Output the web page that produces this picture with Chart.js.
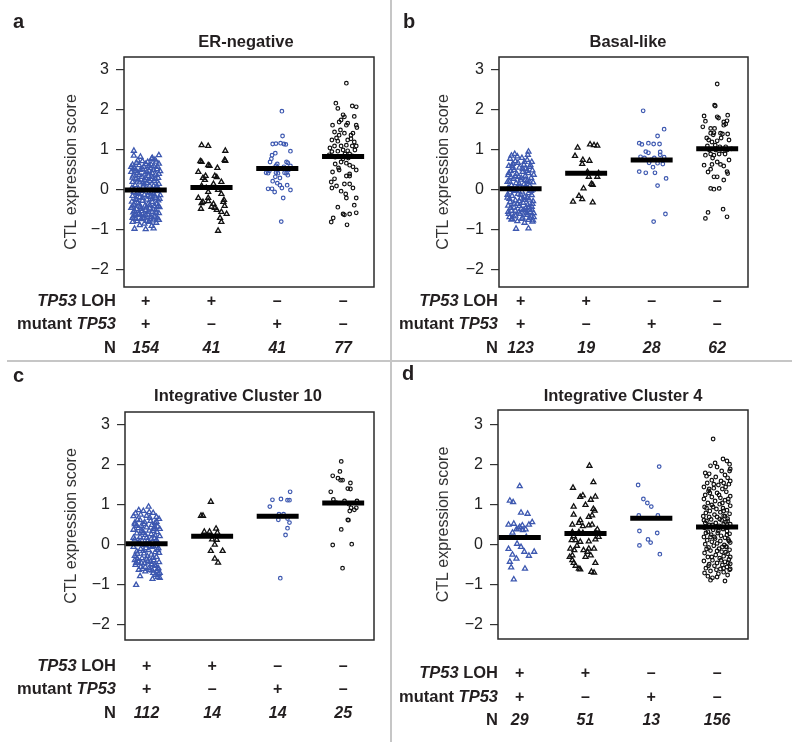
<!DOCTYPE html>
<html>
<head>
<meta charset="utf-8">
<script src="https://cdn.jsdelivr.net/npm/chart.js@4.4.0/dist/chart.umd.min.js"></script>
<style>
  body { margin: 0; background: #fff; }
  #wrap { position: relative; width: 800px; height: 742px; overflow: hidden; }
  #wrap canvas { position: absolute; }
  .sep { position: absolute; background: #c6c6c6; }
</style>
</head>
<body>
<div id="wrap">
  <div class="sep" style="left:390px;top:0;width:1.5px;height:742px"></div>
  <div class="sep" style="left:7px;top:360px;width:785px;height:1.5px"></div>
  <canvas id="pa" width="390" height="360" style="left:0;top:0"></canvas>
  <canvas id="pb" width="408" height="360" style="left:392px;top:0"></canvas>
  <canvas id="pc" width="390" height="380" style="left:0;top:362px"></canvas>
  <canvas id="pd" width="408" height="380" style="left:392px;top:362px"></canvas>
</div>
<script>
// groups: TP53 LOH+/mut+, LOH+/mut-, LOH-/mut+, LOH-/mut-
const categories = [1, 2, 3, 4];
const lohSigns = ["+", "+", "\u2013", "\u2013"];
const mutSigns = ["+", "\u2013", "+", "\u2013"];
const yTicks = [-2, -1, 0, 1, 2, 3];

const countsErNeg = [154, 41, 41, 77];
const countsBasal = [123, 19, 28, 62];
const countsIc10 = [112, 14, 14, 25];
const countsIc4 = [29, 51, 13, 156];

const mediansErNeg = [0.0, 0.06, 0.54, 0.84];
const mediansBasal = [0.03, 0.42, 0.75, 1.03];
const mediansIc10 = [0.03, 0.22, 0.72, 1.05];
const mediansIc4 = [0.19, 0.29, 0.67, 0.45];

// points as [offset from category, score]
const erNeg1 = [
  [-.18,.98],[.2,.87],[-.18,.86],[.09,.78],[.14,.76],[-.05,.72],[.03,.7],[-.14,.68],[.2,.66],[-.2,.63],
  [-.1,.62],[.0,.65],[.12,.6],[-.03,.58],[.07,.55],[-.17,.55],[.17,.52],[-.08,.5],[.05,.48],[.22,.47],
  [-.22,.45],[-.13,.43],[.1,.42],[-.01,.41],[.15,.38],[-.19,.36],[.04,.35],[-.06,.33],[.19,.3],[-.15,.28],
  [.08,.27],[-.02,.25],[.13,.22],[-.2,.2],[-.09,.19],[.02,.17],[.2,.15],[-.16,.12],[.06,.11],[-.04,.08],
  [.16,.06],[-.21,.05],[-.11,.03],[.1,.02],[.0,.0],[-.07,-.02],[.18,-.03],[-.18,-.05],[.05,-.06],[-.13,-.08],
  [.12,-.1],[-.02,-.12],[.22,-.13],[-.2,-.15],[.07,-.17],[-.09,-.18],[.15,-.2],[-.15,-.22],[.02,-.24],[.19,-.26],
  [-.05,-.27],[-.21,-.29],[.1,-.3],[-.12,-.32],[.04,-.34],[.17,-.35],[-.18,-.37],[-.01,-.39],[.13,-.4],[-.08,-.42],
  [.21,-.43],[-.22,-.45],[.06,-.46],[-.14,-.48],[.0,-.5],[.15,-.51],[-.06,-.53],[.1,-.55],[-.19,-.56],[.2,-.58],
  [-.1,-.59],[.03,-.61],[-.16,-.63],[.13,-.64],[-.03,-.66],[.08,-.68],[-.2,-.7],[.18,-.71],[-.07,-.73],[.11,-.76],
  [-.13,-.78],[.05,-.8],[.16,-.82],[-.02,-.84],[-.17,-.97],[.0,-.98],[.12,-.96],[-.09,-.88],[.09,-.9],[-.2,-.8],
  [.1,.8],[-.08,.83],[.16,.71],[-.12,.74],[.05,.6],[-.22,.58],[.18,.58],[-.05,.53],[.12,.5],[-.15,.48],
  [.02,.45],[.2,.4],[-.1,.38],[.09,.33],[-.2,.31],[.0,.3],[.15,.27],[-.12,.24],[.06,.22],[-.04,.2],
  [.17,.1],[-.17,.0],[.08,-.07],[-.1,-.1],[.03,-.14],[.14,-.16],[-.05,-.2],[.21,-.22],[-.14,-.25],[.1,-.23],
  [-.1,-.36],[.06,-.38],[.19,-.4],[-.2,-.41],[.01,-.44],[-.07,-.47],[.11,-.48],[-.17,-.52],[.04,-.55],[.16,-.57],
  [-.11,-.6],[.0,-.63],[.14,-.67],[-.19,-.66],[.07,-.72],[-.04,-.7],[.2,-.75],[-.15,-.72],[.02,-.77],[-.08,-.62],
  [.12,.1],[-.03,.14],[-.19,.52],[.08,.64]
];
const erNeg2 = [
  [-.15,1.12],[-.05,1.1],[.21,.98],[-.17,.72],[-.15,.7],[-.05,.62],[-.03,.6],[.09,.55],[.2,.75],[.21,.73],
  [-.13,.3],[-.09,.35],[-.1,.25],[.05,.35],[.08,.32],[.15,.2],[.03,.15],[-.15,.1],[-.08,.05],[.1,.0],
  [-.05,-.05],[.15,-.1],[-.2,-.2],[-.13,-.3],[-.05,-.28],[.18,-.3],[.2,-.4],[.05,-.45],[.0,-.42],[-.16,-.47],
  [.08,-.5],[.15,-.55],[.23,-.6],[.13,-.7],[.15,-.8],[.1,-1.02],[-.05,-.2],[.03,-.35],[-.15,-.33],[.19,-.25],
  [-.2,.45]
];
const erNeg3 = [
  [.07,1.97],[.08,1.35],[-.07,1.15],[-.02,1.16],[.05,1.17],[.1,1.15],[.13,1.14],[.2,.97],[-.03,.92],[-.08,.87],
  [-.09,.78],[-.11,.7],[.14,.7],[.16,.68],[.2,.6],[-.02,.61],[-.17,.43],[-.14,.42],[-.02,.43],[.01,.42],
  [.11,.43],[.14,.42],[.16,.37],[.04,.3],[-.03,.33],[.0,.17],[.04,.12],[.15,.12],[-.14,.03],[-.08,.03],
  [-.04,-.05],[.07,.05],[.2,.0],[.09,-.2],[.06,-.79],[-.05,.55],[.1,.58],[-.12,.48],[.17,.5],[.0,.65],
  [-.07,.22]
];
const erNeg4 = [
  [.05,2.67],[-.11,2.17],[.14,2.1],[.2,2.08],[-.08,2.04],[.0,1.88],[.02,1.83],[-.03,1.75],[-.06,1.7],[.17,1.84],
  [-.16,1.62],[.05,1.62],[.07,1.67],[.2,1.62],[.21,1.56],[-.13,1.45],[-.06,1.37],[.02,1.42],[.15,1.42],[.12,1.37],
  [-.17,1.25],[-.08,1.22],[.07,1.25],[.17,1.2],[.2,1.1],[-.13,1.1],[-.03,1.1],[.05,1.12],[.14,1.1],[.0,1.0],
  [.07,.98],[-.08,.97],[-.17,.96],[.03,.9],[.1,.9],[-.21,.88],[-.03,.7],[.05,.67],[.1,.62],[.15,.58],
  [-.12,.65],[-.16,.45],[-.06,.5],[.2,.5],[.05,.35],[.1,.35],[-.13,.28],[.02,.15],[.1,.15],[.15,.05],
  [-.17,.05],[-.1,.1],[-.03,-.03],[.05,-.2],[.2,-.2],[-.08,-.43],[.0,-.6],[.02,-.62],[.1,-.6],[.2,-.57],
  [-.15,-.7],[-.18,-.8],[.06,-.87],[.17,-.38],[-.1,1.3],[.12,1.28],[-.04,1.5],[.18,1.0],[-.2,1.05],[.08,.8],
  [-.12,.82],[.0,.78],[.14,.85],[-.07,.55],[.1,.4],[-.18,.2],[.04,-.1]
];

const basal1 = [
  [.12,.96],[-.14,.86],[-.05,.84],[.02,.8],[-.16,.78],[.1,.75],[-.08,.72],[.17,.7],[-.12,.65],[.05,.63],
  [-.18,.6],[.14,.58],[-.02,.56],[.08,.53],[-.1,.5],[.18,.49],[-.15,.47],[.03,.45],[.12,.42],[-.06,.4],
  [-.19,.37],[.07,.35],[-.03,.33],[.16,.3],[-.11,.28],[.0,.26],[.1,.23],[-.17,.21],[.19,.19],[-.07,.17],
  [.05,.14],[-.14,.12],[.14,.1],[-.01,.08],[-.19,.05],[.09,.04],[.18,.01],[-.09,-.02],[.02,-.04],[-.16,-.06],
  [.12,-.08],[-.04,-.1],[.17,-.13],[-.13,-.15],[.06,-.17],[-.2,-.19],[.0,-.21],[.13,-.24],[-.08,-.26],[.19,-.28],
  [-.16,-.3],[.04,-.32],[-.05,-.35],[.11,-.37],[-.19,-.39],[.17,-.42],[-.1,-.44],[.01,-.47],[.14,-.49],[-.14,-.52],
  [.07,-.54],[-.03,-.56],[.2,-.58],[-.18,-.6],[.1,-.62],[-.08,-.64],[.16,-.66],[.03,-.69],[-.13,-.72],[.12,-.75],
  [-.05,-.78],[.18,-.79],[-.14,-.74],[.06,-.82],[-.07,-.97],[.12,-.96],[.2,-.68],[.15,-.55],[-.01,-.6],[.08,-.45],
  [-.12,.55],[.15,.62],[-.04,.68],[.06,.7],[-.18,.42],[.1,.48],[-.08,.35],[.2,.38],[.01,.3],[-.15,.32],
  [.14,.2],[-.02,.15],[-.2,.2],[.08,.1],[-.11,.0],[.16,-.02],[-.06,.05],[.0,-.12],[.1,-.2],[-.17,-.22],
  [.05,-.25],[-.1,-.35],[.18,-.35],[-.02,-.4],[.12,-.43],[-.15,-.45],[.04,-.5],[-.08,-.52],[.17,-.5],[-.19,-.55],
  [.09,-.58],[-.11,-.66],[.02,-.72],[.14,-.7],[-.17,-.68],[.19,-.76],[-.02,-.28],[.07,.25],[-.13,.6],[.11,.88],
  [-.09,.9],[.03,.52],[-.2,-.12]
];
const basal2 = [
  [-.13,1.06],[.06,1.14],[.12,1.12],[.17,1.11],[-.17,.85],[-.05,.75],[.05,.73],[-.06,.65],[.04,.33],[.17,.33],
  [.08,.15],[.1,.13],[-.04,.04],[-.11,-.15],[-.06,-.23],[-.2,-.29],[.1,-.31],[.02,.45],[.19,.42]
];
const basal3 = [
  [-.13,1.98],[.19,1.52],[.09,1.35],[-.19,1.17],[-.15,1.14],[-.05,1.17],[.03,1.15],[.12,1.15],[-.09,.96],[-.05,.93],
  [.13,.95],[.13,.88],[-.17,.83],[-.11,.8],[.04,.8],[.19,.82],[-.04,.68],[.09,.67],[.17,.65],[.02,.57],
  [-.19,.46],[-.09,.43],[.05,.43],[.22,.29],[.09,.11],[.21,-.6],[.03,-.79],[-.01,.75]
];
const basal4 = [
  [.0,2.65],[-.04,2.12],[-.03,2.1],[-.2,1.85],[.16,1.87],[.0,1.83],[.02,1.8],[-.18,1.72],[.1,1.7],[.15,1.73],
  [-.22,1.58],[-.1,1.54],[-.04,1.54],[.1,1.62],[.13,1.65],[-.1,1.42],[-.05,1.43],[.05,1.42],[.08,1.4],[-.13,1.25],
  [-.08,1.2],[.0,1.23],[.18,1.25],[-.15,1.1],[-.03,1.12],[.04,1.08],[.13,1.08],[.22,1.03],[-.18,.87],[-.1,.9],
  [-.05,.87],[.03,.9],[.12,.9],[-.2,.62],[-.08,.64],[.05,.64],[-.1,.52],[.15,.46],[.16,.41],[-.05,.33],
  [.0,.33],[.1,.25],[-.1,.04],[-.05,.02],[.03,.04],[-.14,-.56],[-.18,-.71],[.09,-.48],[.15,-.67],[-.06,1.38],
  [.16,1.4],[-.16,1.3],[.06,1.3],[-.02,1.0],[.15,1.0],[-.12,1.0],[.08,.98],[-.07,.8],[.18,.75],[.1,.6],
  [-.14,.45],[.0,.7]
];

const ic10_1 = [
  [.03,.96],[-.12,.87],[-.05,.85],[-.17,.79],[.1,.8],[-.09,.76],[.15,.7],[-.2,.72],[.0,.73],[.19,.65],
  [-.14,.63],[.06,.6],[-.03,.57],[.13,.55],[-.18,.52],[.08,.5],[-.08,.48],[.17,.46],[.0,.44],[-.13,.42],
  [.11,.4],[-.2,.38],[.04,.36],[-.06,.34],[.16,.32],[-.15,.29],[.07,.27],[-.02,.25],[.2,.22],[-.1,.2],
  [.12,.17],[-.18,.14],[.02,.12],[-.07,.1],[.16,.08],[-.13,.05],[.06,.03],[-.02,.0],[.1,-.02],[-.2,-.05],
  [.18,-.08],[-.09,-.1],[.03,-.13],[-.15,-.16],[.13,-.18],[-.04,-.21],[.07,-.24],[-.18,-.27],[.15,-.3],[-.07,-.33],
  [.0,-.36],[.11,-.38],[-.13,-.41],[.19,-.43],[-.03,-.46],[.08,-.48],[-.17,-.5],[.14,-.52],[-.09,-.55],[.04,-.57],
  [.17,-.6],[-.12,-.62],[.09,-.64],[-.02,-.66],[.2,-.7],[.14,-.75],[.17,-.8],[.2,-.82],[-.1,-.78],[-.16,-1.0],
  [.15,.58],[-.1,.62],[.05,.68],[-.15,.48],[.2,.4],[-.05,.3],[.1,.35],[-.2,.18],[.15,.12],[.0,.18],
  [-.12,.02],[.08,-.05],[-.05,-.15],[.17,-.12],[-.14,-.22],[.01,-.28],[.1,-.32],[-.18,-.38],[.06,-.42],[-.08,-.45],
  [.12,-.5],[-.02,-.55],[.18,-.58],[-.14,-.35],[.05,-.62],[.1,-.7],[.18,-.72],[-.06,-.6],[.12,.45],[-.04,.52],
  [.04,.82],[-.18,.56],[.13,.24],[-.11,.08],[.19,-.2],[-.01,-.08],[.07,.15],[-.16,-.45],[.09,-.85],[.16,-.65],
  [-.08,.35],[.02,-.4]
];
const ic10_2 = [
  [-.02,1.08],[-.17,.73],[-.14,.73],[-.12,.33],[-.04,.33],[.06,.41],[.08,.31],[.0,.14],[.07,.13],[.04,.01],
  [-.02,-.15],[.16,-.15],[.04,-.34],[.09,-.44]
];
const ic10_3 = [
  [.19,1.33],[-.08,1.13],[.05,1.15],[.15,1.12],[.18,1.12],[-.12,.96],[.02,.77],[.09,.77],[.01,.63],[.15,.66],
  [.18,.56],[.15,.42],[.12,.25],[.04,-.83]
];
const ic10_4 = [
  [-.03,2.09],[-.05,1.84],[-.16,1.73],[-.08,1.67],[-.04,1.62],[-.01,1.62],[.11,1.55],[-.19,1.33],[.07,1.41],[.11,1.4],
  [-.15,1.14],[.21,1.1],[.09,1.02],[.12,.93],[.17,.88],[.1,.85],[.2,.93],[.07,.63],[-.03,.39],[-.16,.0],
  [.13,.02],[-.01,-.58],[-.11,1.06],[.02,1.1],[.08,.62]
];

const ic4_1 = [
  [.0,1.47],[-.15,1.11],[-.1,1.07],[.02,.81],[.12,.78],[-.17,.51],[-.09,.53],[.04,.49],[.14,.51],[.19,.57],
  [-.11,.31],[-.05,.39],[-.02,.41],[.05,.37],[.09,.39],[-.04,.03],[-.11,-.24],[-.05,-.34],[.07,-.17],[.14,-.27],
  [.22,-.17],[-.15,-.42],[-.13,-.56],[.08,-.59],[-.09,-.86],[.0,.45],[.1,.2],[-.17,-.1],[.02,-.05]
];
const ic4_2 = [
  [.06,1.98],[.12,1.57],[-.19,1.43],[-.08,1.2],[-.04,1.24],[.15,1.21],[.08,1.13],[-.18,.96],[.12,.9],[.14,.86],
  [-.18,.76],[.1,.74],[-.2,.51],[-.1,.55],[-.04,.47],[.05,.49],[.1,.51],[-.2,.32],[-.1,.32],[-.04,.3],
  [.15,.32],[.2,.2],[.18,.39],[-.21,.12],[-.15,.12],[-.08,.08],[.05,.09],[.15,.14],[-.23,-.09],[-.17,-.13],
  [-.03,-.13],[.05,-.09],[.13,-.09],[.03,-.17],[-.24,-.3],[-.2,-.38],[.0,-.3],[.08,-.26],[-.18,-.45],[-.15,-.52],
  [-.08,-.61],[-.1,-.59],[.09,-.67],[.13,-.69],[-.2,-.26],[.0,1.0],[-.08,.62],[.05,.7],[-.13,-.02],[-.18,.22],
  [.15,-.45]
];
const ic4_3 = [
  [.12,1.96],[-.2,1.5],[-.12,1.15],[-.06,1.05],[.0,.96],[-.19,.74],[.1,.74],[-.18,.35],[.09,.3],[-.05,.14],
  [-.01,.06],[-.18,-.01],[.13,-.23]
];
const ic4_4 = [
  [-.06,2.65],[.09,2.15],[.15,2.1],[-.03,2.05],[.19,2.02],[-.1,1.98],[.2,1.9],[-.18,1.8],[-.12,1.78],[.12,1.75],
  [.19,1.85],[-.02,1.7],[.16,1.68],[-.08,1.62],[.06,1.6],[.1,1.55],[-.15,1.55],[.02,1.5],[.18,1.52],[-.2,1.45],
  [-.05,1.42],[.08,1.4],[-.13,1.35],[.14,1.33],[.0,1.3],[-.18,1.25],[.2,1.22],[-.08,1.2],[.05,1.18],[-.2,1.15],
  [.12,1.12],[-.03,1.1],[.17,1.08],[-.14,1.05],[.04,1.02],[-.08,1.0],[.2,.98],[-.19,.95],[.09,.92],[-.01,.9],
  [.15,.87],[-.11,.85],[.05,.82],[-.17,.8],[.19,.78],[-.04,.76],[.1,.73],[-.21,.72],[.0,.7],[.16,.66],
  [-.09,.64],[.07,.62],[-.16,.6],[.13,.57],[-.02,.55],[.2,.52],[-.12,.5],[.03,.48],[.18,.45],[-.19,.43],
  [.09,.4],[-.06,.38],[.15,.35],[-.14,.33],[.01,.3],[.19,.28],[-.09,.26],[.06,.23],[-.2,.2],[.12,.18],
  [-.03,.16],[.17,.14],[-.15,.12],[.05,.1],[-.08,.08],[.2,.06],[.0,.04],[-.18,.02],[.11,.0],[-.05,-.02],
  [.14,-.04],[-.13,-.06],[.03,-.09],[.19,-.12],[-.1,-.14],[.07,-.17],[-.19,-.2],[.16,-.22],[-.02,-.25],[.1,-.28],
  [-.14,-.3],[.04,-.33],[.18,-.36],[-.07,-.38],[-.2,-.4],[.12,-.42],[.0,-.45],[.2,-.47],[-.12,-.48],[.08,-.5],
  [-.04,-.52],[.15,-.55],[-.17,-.58],[.05,-.6],[.19,-.62],[-.1,-.65],[.1,-.68],[-.19,-.7],[.02,-.72],[.16,-.75],
  [-.14,-.78],[-.07,-.82],[-.1,-.88],[.12,-.9],[.0,-.8],[.2,-.6],[.17,-.45],[.2,-.3],[.18,.1],[.2,1.6],
  [-.16,1.72],[.07,1.85],[-.05,1.52],[.13,1.45],[-.11,1.3],[.03,1.25],[.17,1.15],[-.06,.95],[.1,.85],[-.16,.92],
  [.04,.65],[-.12,.7],[.16,.6],[-.07,.5],[.1,.52],[-.17,.3],[.02,.35],[.15,.25],[-.1,.2],[.08,-.05],
  [-.16,-.1],[.0,-.15],[.13,-.18],[-.08,-.3],[.06,-.38],[-.13,-.52],[.1,-.58],[-.01,-.62],[.14,-.05],[-.18,.55],
  [.08,1.05],[-.12,1.4],[.0,1.95],[-.2,.62],[.12,.72],[-.04,.2]
];

const FAMILY = "'Liberation Sans', Arial, Helvetica, sans-serif";
const BLUE = "#3d58b0";
const INK = "#231f20";
Chart.defaults.font.family = FAMILY;

const panels = [
  { id: "pa", w: 390, h: 360, letter: "a", letterX: 13, letterY: 28, title: "ER-negative", titleX: 246, titleY: 47,
    plot: { l: 124, r: 374, t: 57, b: 287 }, yMin: -2.425, yMax: 3.325, yTitleX: 72,
    rows: [306, 329, 353], headRight: 116,
    groups: [erNeg1, erNeg2, erNeg3, erNeg4], medians: mediansErNeg, counts: countsErNeg },
  { id: "pb", w: 408, h: 360, letter: "b", letterX: 11, letterY: 28, title: "Basal-like", titleX: 236, titleY: 47,
    plot: { l: 107, r: 356, t: 57, b: 287 }, yMin: -2.425, yMax: 3.325, yTitleX: 52,
    rows: [306, 329, 353], headRight: 106,
    groups: [basal1, basal2, basal3, basal4], medians: mediansBasal, counts: countsBasal },
  { id: "pc", w: 390, h: 380, letter: "c", letterX: 13, letterY: 20, title: "Integrative Cluster 10", titleX: 238, titleY: 39,
    plot: { l: 125, r: 374, t: 50, b: 278 }, yMin: -2.375, yMax: 3.325, yTitleX: 72,
    rows: [309, 332, 356], headRight: 116,
    groups: [ic10_1, ic10_2, ic10_3, ic10_4], medians: mediansIc10, counts: countsIc10 },
  { id: "pd", w: 408, h: 380, letter: "d", letterX: 10, letterY: 18, title: "Integrative Cluster 4", titleX: 231, titleY: 39,
    plot: { l: 106, r: 356, t: 48, b: 277 }, yMin: -2.35, yMax: 3.375, yTitleX: 52,
    rows: [316, 340, 363], headRight: 106,
    groups: [ic4_1, ic4_2, ic4_3, ic4_4], medians: mediansIc4, counts: countsIc4 }
];

// text drawn right-aligned from runs of [text, font]
function drawRuns(ctx, runs, right, y) {
  let w = 0;
  runs.forEach(r => { ctx.font = r[1]; w += ctx.measureText(r[0]).width; });
  let x = right - w;
  ctx.textAlign = "left";
  runs.forEach(r => { ctx.font = r[1]; ctx.fillText(r[0], x, y); x += ctx.measureText(r[0]).width; });
}

function panelText(p) {
  const bold = "bold 16.5px " + FAMILY;
  const boldIt = "italic bold 16.5px " + FAMILY;
  return {
    id: "panelText",
    afterDraw(chart) {
      const { ctx, chartArea: a, scales: { x } } = chart;
      ctx.save();
      ctx.strokeStyle = "#2a2a2a";
      ctx.lineWidth = 1.5;
      ctx.strokeRect(a.left, a.top, a.right - a.left, a.bottom - a.top);

      ctx.fillStyle = INK;
      ctx.textBaseline = "alphabetic";
      ctx.textAlign = "left";
      ctx.font = "bold 20px " + FAMILY;
      ctx.fillText(p.letter, p.letterX, p.letterY);

      ctx.textAlign = "center";
      ctx.font = "bold 16.5px " + FAMILY;
      ctx.fillText(p.title, p.titleX, p.titleY);

      drawRuns(ctx, [["TP53", boldIt], [" LOH", bold]], p.headRight, p.rows[0]);
      drawRuns(ctx, [["mutant ", bold], ["TP53", boldIt]], p.headRight, p.rows[1]);
      drawRuns(ctx, [["N", bold]], p.headRight, p.rows[2]);

      ctx.textAlign = "center";
      categories.forEach((c, i) => {
        const cx = x.getPixelForValue(c);
        ctx.font = "bold 16px " + FAMILY;
        ctx.fillText(lohSigns[i], cx, p.rows[0]);
        ctx.fillText(mutSigns[i], cx, p.rows[1]);
        ctx.font = "italic bold 16px " + FAMILY;
        ctx.fillText(String(p.counts[i]), cx, p.rows[2]);
      });
      ctx.restore();
    }
  };
}

function makePanel(p) {
  const datasets = [];
  p.groups.forEach((pts, i) => {
    const blue = i % 2 === 0;
    const tri = i < 2;
    datasets.push({
      data: pts.map(([dx, y]) => ({ x: categories[i] + dx, y })),
      pointStyle: tri ? "triangle" : "circle",
      pointRadius: tri ? 2.9 : 1.8,
      pointBorderWidth: tri ? 1.3 : 1.2,
      pointBorderColor: blue ? BLUE : "#111",
      pointBackgroundColor: "rgba(0,0,0,0)",
      order: 2
    });
  });
  p.medians.forEach((m, i) => {
    datasets.push({
      data: [{ x: categories[i] - 0.32, y: m }, { x: categories[i] + 0.32, y: m }],
      showLine: true,
      borderColor: "#000",
      borderWidth: 5,
      pointRadius: 0,
      order: 1
    });
  });

  new Chart(document.getElementById(p.id), {
    type: "scatter",
    data: { datasets },
    options: {
      responsive: false,
      animation: false,
      events: [],
      layout: { padding: { left: 0, top: p.plot.t, right: p.w - p.plot.r, bottom: p.h - p.plot.b } },
      plugins: { legend: { display: false }, tooltip: { enabled: false } },
      scales: {
        x: { type: "linear", display: false, min: 0.67, max: 4.47 },
        y: {
          min: p.yMin,
          max: p.yMax,
          afterBuildTicks: s => { s.ticks = yTicks.map(v => ({ value: v })); },
          afterFit: s => { s.width = p.plot.l; },
          grid: { drawOnChartArea: false, tickLength: 8, color: "#333", lineWidth: 1.2 },
          border: { display: false },
          ticks: {
            padding: 7,
            color: "#222",
            font: { size: 16 },
            callback: v => (v < 0 ? "\u2212" + (-v) : String(v))
          },
          title: {
            display: true,
            text: "CTL expression score",
            color: "#333",
            font: { size: 16 },
            padding: { top: p.yTitleX - 9.6, bottom: 0 }
          }
        }
      }
    },
    plugins: [panelText(p)]
  });
}

panels.forEach(makePanel);
</script>
</body>
</html>
